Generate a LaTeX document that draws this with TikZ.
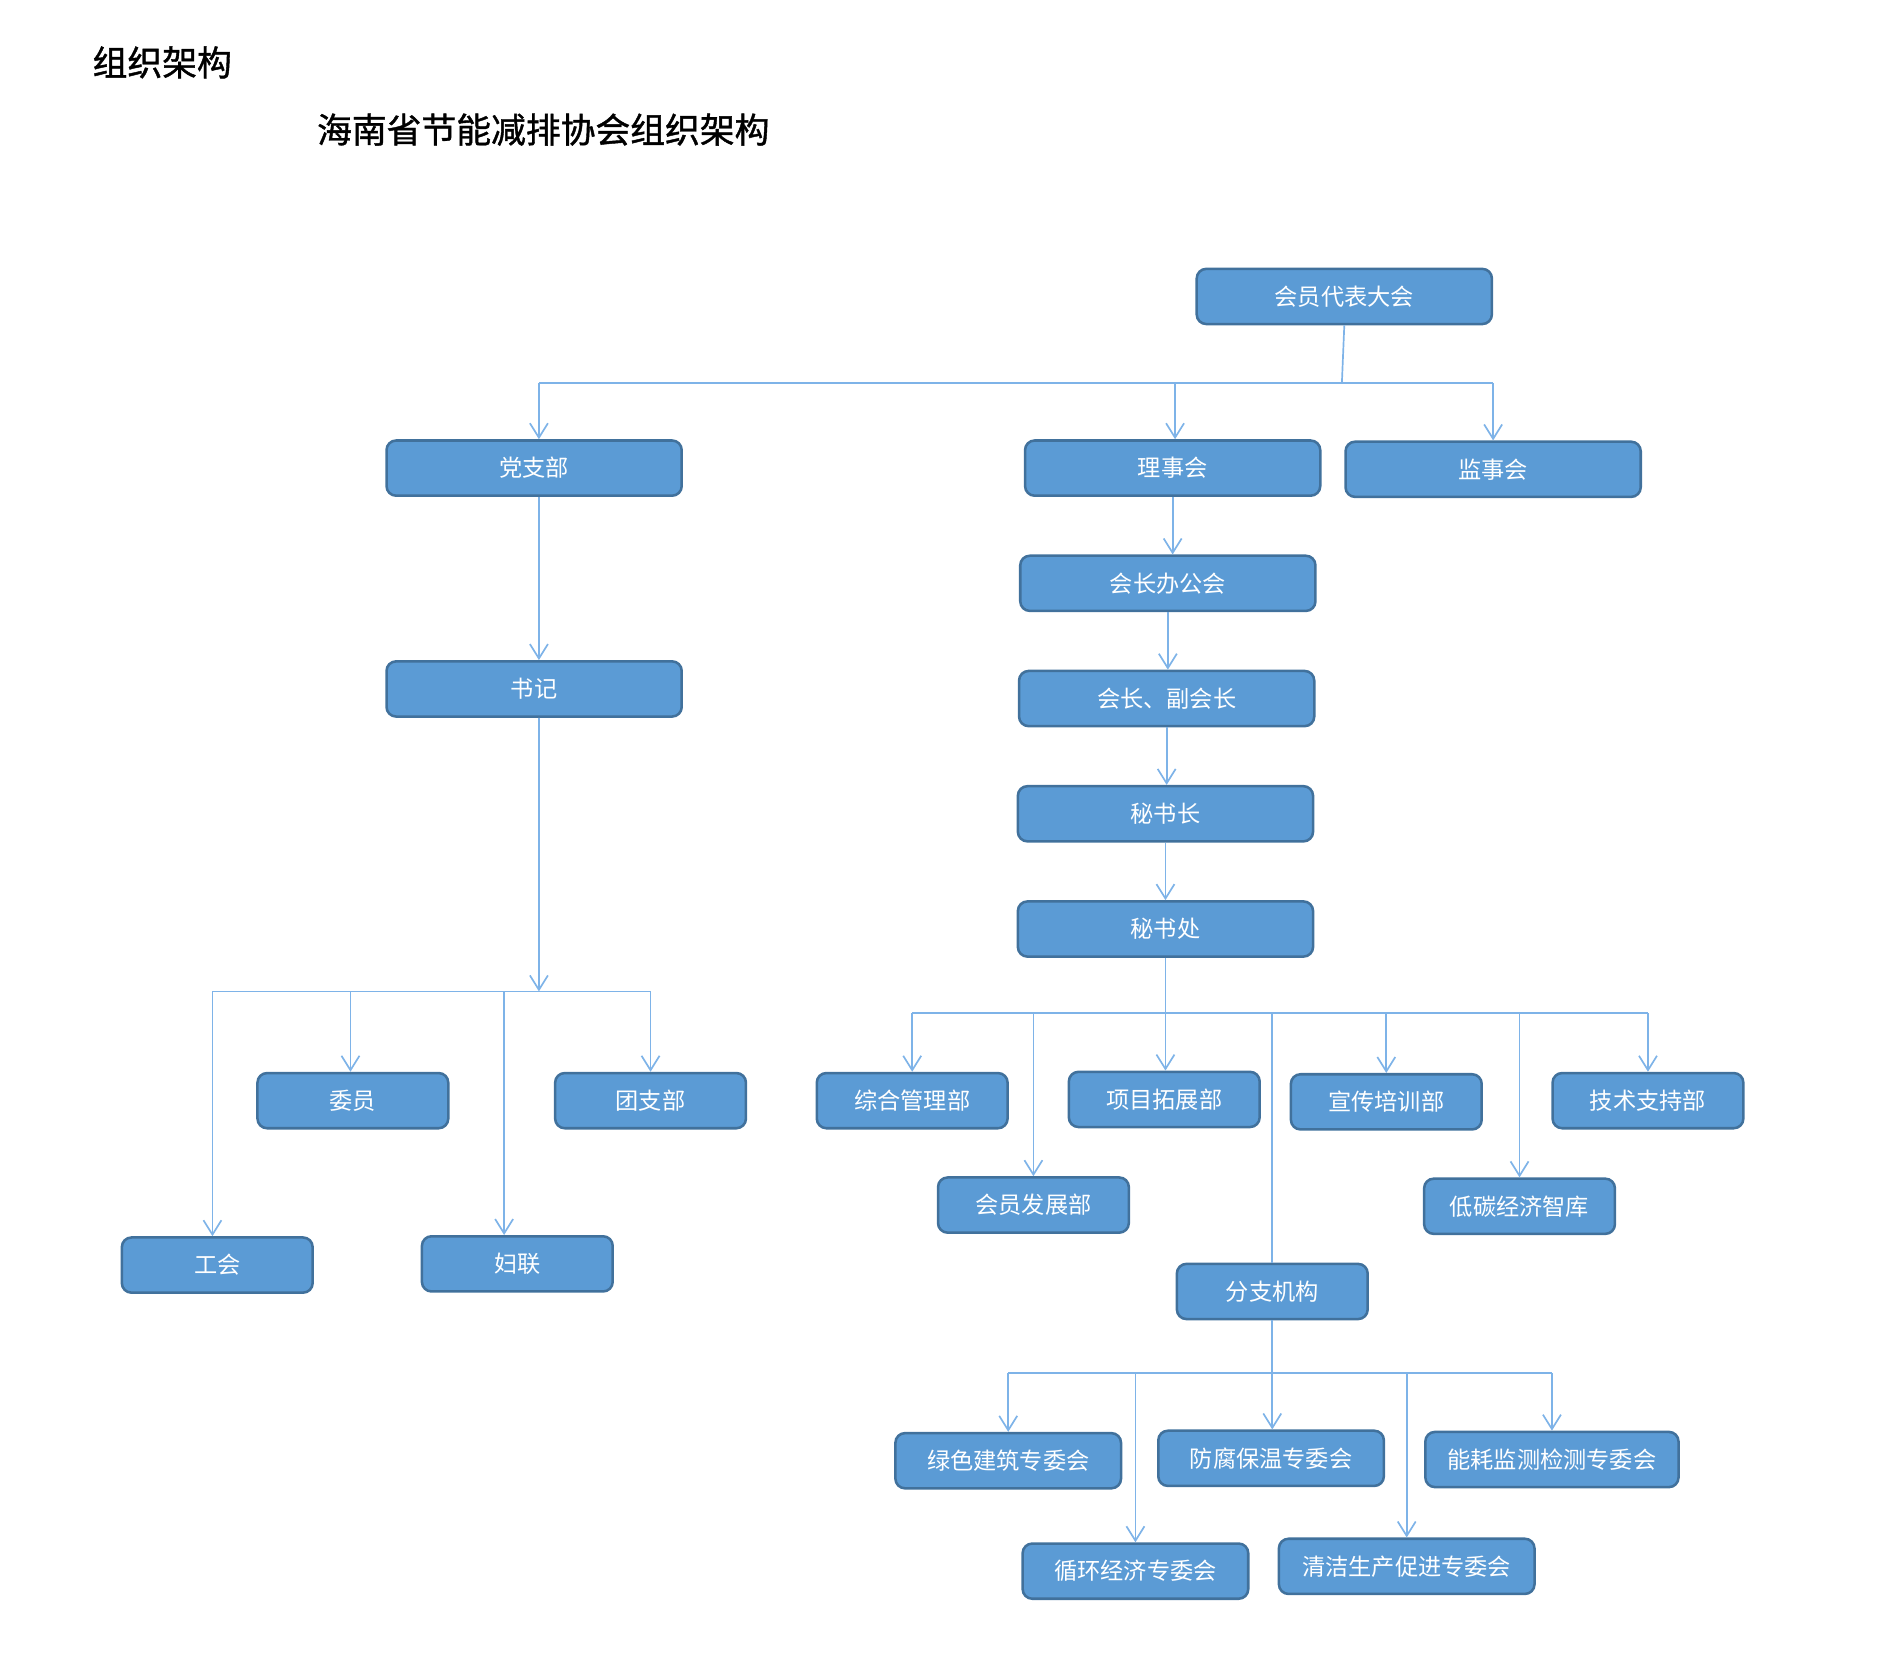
\documentclass[tikz,border=0pt]{standalone}
\usepackage{fontspec}
\setmainfont{Noto Sans CJK SC}
\newfontfamily\headfont[FakeBold=1.2]{Noto Sans CJK SC}
\usepackage{tikz}
\usetikzlibrary{arrows.meta,calc}
\definecolor{boxfill}{HTML}{5B9BD5}
\definecolor{boxline}{HTML}{41719C}
\definecolor{linkcol}{HTML}{7EB3E8}

\begin{document}
\begin{tikzpicture}
  [
    x=0.02cm, y=-0.02cm,
    unit/.style={draw=boxline, fill=boxfill, line width=1.2pt, rounded corners=0.16cm,
      text=white, minimum width=4.92cm, minimum height=0.92cm, inner sep=0pt,
      font=\fontsize{11pt}{13pt}\selectfont},
    small/.style={unit, minimum width=3.18cm},
    cmte/.style={unit, minimum width=3.76cm},
    link/.style={draw=linkcol, line width=0.8pt},
    arr/.style={link, -{Straight Barb[length=0.24cm,width=0.3cm]}},
    heading/.style={anchor=west, font=\headfont\fontsize{16.5pt}{19pt}\selectfont}
  ]
    \path[use as bounding box] (0,0) rectangle (1568,1378);
    % titles
    \node[heading] (title) at (71,52) {组织架构};
    \node[heading] (orgname) at (258,108) {海南省节能减排协会组织架构};

    % top levels
    \node[unit] (dbdh) at (1120,247) {会员代表大会};
    \node[unit] (dzb) at (445,390) {党支部};
    \node[unit] (lsh) at (977,390) {理事会};
    \node[unit] (jsh) at (1244,391) {监事会};
    \node[unit] (hzbgh) at (973,486) {会长办公会};
    \node[unit] (hz) at (972,582) {会长、副会长};
    \node[unit] (msz) at (971,678) {秘书长};
    \node[unit] (msc) at (971,774) {秘书处};
    \node[unit] (sj) at (445,574) {书记};

    % party branch
    \node[small] (wy) at (294,917) {委员};
    \node[small] (tzb) at (542,917) {团支部};
    \node[small] (gh) at (181,1054) {工会};
    \node[small] (fl) at (431,1053) {妇联};

    % departments
    \node[small] (zhglb) at (760,917) {综合管理部};
    \node[small] (xmtzb) at (970,916) {项目拓展部};
    \node[small] (xcpxb) at (1155,918) {宣传培训部};
    \node[small] (jszcb) at (1373,917) {技术支持部};
    \node[small] (hyfzb) at (861,1004) {会员发展部};
    \node[small] (dtjj) at (1266,1005) {低碳经济智库};
    \node[small] (fzjg) at (1060,1076) {分支机构};

    % committees
    \node[cmte] (lsjz) at (840,1217) {绿色建筑专委会};
    \node[cmte] (ffbw) at (1059,1215) {防腐保温专委会};
    \node[cmte, minimum width=4.22cm] (nhjc) at (1293,1216) {能耗监测检测专委会};
    \node[cmte] (xhjj) at (946,1309) {循环经济专委会};
    \node[cmte, minimum width=4.26cm] (qjsc) at (1172,1305) {清洁生产促进专委会};

    % connectors from the congress
    \coordinate (topbus) at (1118,319);
    \draw[link] (dbdh.south) -- (topbus);
    \draw[link] ([xshift=0.08cm]dzb.north |- topbus) -- (jsh.north |- topbus);
    \draw[arr] ([xshift=0.08cm]dzb.north |- topbus) -- ([xshift=0.08cm]dzb.north);
    \draw[arr] ([xshift=0.04cm]lsh.north |- topbus) -- ([xshift=0.04cm]lsh.north);
    \draw[arr] (jsh.north |- topbus) -- (jsh.north);

    % council chain
    \draw[arr] (lsh.south) -- (lsh.south |- hzbgh.north);
    \draw[arr] (hzbgh.south) -- (hzbgh.south |- hz.north);
    \draw[arr] (hz.south) -- (hz.south |- msz.north);
    \draw[arr] (msz.south) -- (msz.south |- msc.north);

    % party branch
    \draw[arr] ([xshift=0.08cm]dzb.south) -- ([xshift=0.08cm]sj.north);
    \coordinate (sjbus) at (449,826);
    \draw[arr] ([xshift=0.08cm]sj.south) -- (sjbus);
    \draw[link] ([xshift=-0.08cm]gh.north |- sjbus) -- (tzb.north |- sjbus);
    \draw[arr] ([xshift=-0.08cm]gh.north |- sjbus) -- ([xshift=-0.08cm]gh.north);
    \draw[arr] ([xshift=-0.04cm]wy.north |- sjbus) -- ([xshift=-0.04cm]wy.north);
    \draw[arr] ([xshift=-0.22cm]fl.north |- sjbus) -- ([xshift=-0.22cm]fl.north);
    \draw[arr] (tzb.north |- sjbus) -- (tzb.north);

    % secretariat
    \coordinate (mscbus) at (971,844);
    \draw[link] (zhglb.north |- mscbus) -- (jszcb.north |- mscbus);
    \draw[arr] (msc.south) -- (msc.south |- xmtzb.north);
    \foreach \d in {zhglb,hyfzb,xcpxb,dtjj,jszcb}
      \draw[arr] (\d.north |- mscbus) -- (\d.north);
    \draw[link] (fzjg.north |- mscbus) -- (fzjg.north);

    % branches
    \coordinate (fzbus) at (1060,1144);
    \draw[link] (lsjz.north |- fzbus) -- (nhjc.north |- fzbus);
    \draw[arr] (fzjg.south) -- (fzjg.south |- ffbw.north);
    \foreach \d in {lsjz,xhjj,qjsc,nhjc}
      \draw[arr] (\d.north |- fzbus) -- (\d.north);
  \end{tikzpicture}
\end{document}
